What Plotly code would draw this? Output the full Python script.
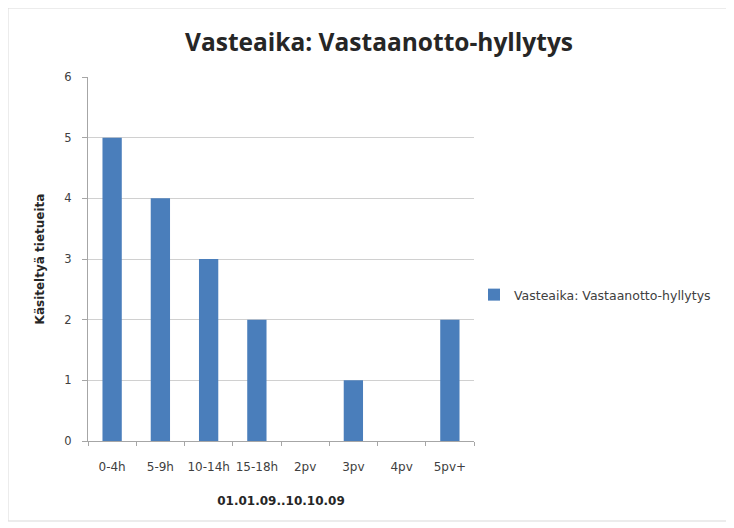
import plotly.graph_objects as go

categories = ["0-4h", "5-9h", "10-14h", "15-18h", "2pv", "3pv", "4pv", "5pv+"]
values = [5, 4, 3, 2, 0, 1, 0, 2]
series_name = "Vasteaika: Vastaanotto-hyllytys"
title_text = "Vasteaika: Vastaanotto-hyllytys"
x_title = "01.01.09..10.10.09"
y_title = "Käsiteltyä tietueita"

# page body has an 8px margin; figure coordinates are offset by it
OFF = 8
W, H = 734 - OFF, 528 - OFF
L, T = 88 - OFF, 77 - OFF
R = W - (474 - OFF)
B = H - (441 - OFF)
pw, ph = W - L - R, H - T - B

FONT = "DejaVu Sans, Liberation Sans, sans-serif"

fig = go.Figure()
fig.add_trace(go.Bar(
    x=categories, y=values, name=series_name,
    marker=dict(color="#4a7ebb", line=dict(width=0)),
    showlegend=True,
))

fig.update_layout(
    width=W, height=H,
    margin=dict(l=L, r=R, t=T, b=B, autoexpand=False),
    paper_bgcolor="white", plot_bgcolor="white",
    font=dict(family=FONT, size=11, color="#404040"),
    title=dict(text="<b>" + title_text + "</b>", x=(379 - OFF) / W, xanchor="center",
               y=1 - (42 - OFF) / H, yanchor="middle",
               font=dict(size=24.5, color="#262626", family="Open Sans, Liberation Sans, sans-serif")),
    bargap=0.6,
    showlegend=True,
    legend=dict(x=(474 - 88) / pw, y=1 - (295 - 77) / ph, xanchor="left", yanchor="middle",
                font=dict(size=12.5, color="#404040", family=FONT), bgcolor="rgba(0,0,0,0)",
                itemwidth=30),
    xaxis=dict(
        type="category", showgrid=False, showline=True, linecolor="#a6a6a6", linewidth=1,
        ticks="outside", tickson="boundaries", ticklen=4, tickcolor="#a6a6a6",
        tickangle=0, automargin=False,
        tickfont=dict(size=12, color="#404040", family=FONT), ticklabelstandoff=15,
        title=dict(text="<b>" + x_title + "</b>", font=dict(size=12, color="#262626", family=FONT), standoff=23),
    ),
    yaxis=dict(
        range=[0, 6], dtick=1, showgrid=True, gridcolor="#d0d0d0", gridwidth=1,
        showline=True, linecolor="#a6a6a6", linewidth=1, automargin=False,
        ticks="outside", ticklen=5, tickcolor="#a6a6a6",
        tickfont=dict(size=11.5, color="#404040", family=FONT), zeroline=False, ticklabelstandoff=8,
        title=dict(text="<b>" + y_title + "</b>", font=dict(size=12, color="#262626", family=FONT), standoff=17),
    ),
    shapes=[dict(type="rect", xref="paper", yref="paper",
                 x0=(8 - 88) / pw, x1=(727 - 88) / pw,
                 y0=1 - (521 - 77) / ph, y1=1 - (8 - 77) / ph,
                 line=dict(color="#d9d9d9", width=1), fillcolor="rgba(0,0,0,0)", layer="below")],
)

fig.write_html("out.html")
